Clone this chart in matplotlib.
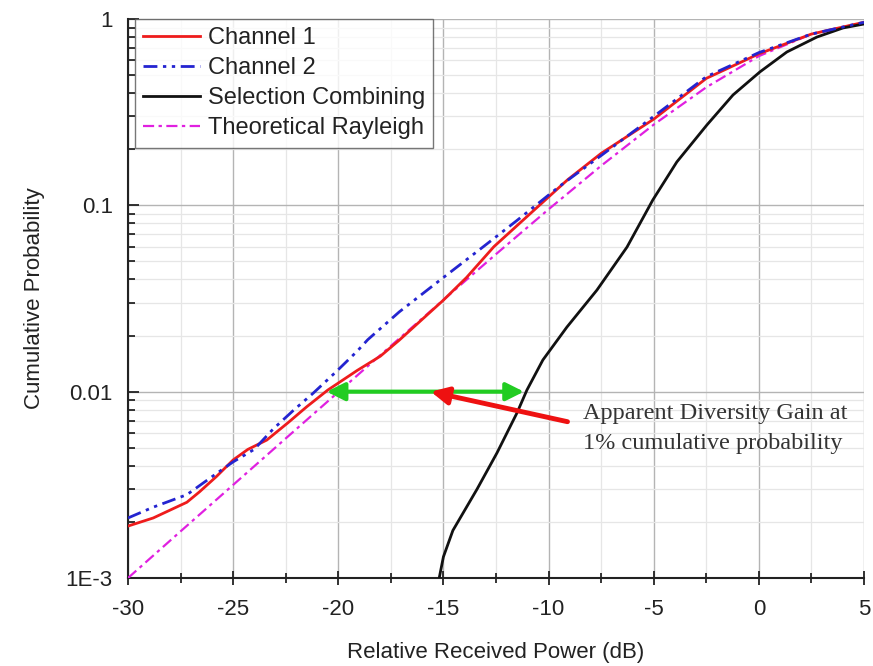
import matplotlib
matplotlib.use("Agg")
import matplotlib.pyplot as plt
from matplotlib.ticker import FixedLocator, FixedFormatter, NullFormatter

plt.rcParams['font.family'] = ['Liberation Sans', 'DejaVu Sans']

# Channel 1 measured CDF
ch1_db = [-30, -28.8, -27.2, -26.6, -25.8, -25, -24.3, -23.4, -22.4, -21.5, -20.5,
          -19.1, -18.0, -17.1, -15, -13.9, -12.6, -10.7, -9.1, -7.5, -5, -2.5, 0, 2.5, 5]
ch1_p = [0.0019, 0.0021, 0.00255, 0.0029, 0.0035, 0.0043, 0.0049, 0.0055, 0.0068,
         0.0083, 0.0102, 0.0130, 0.0155, 0.0189, 0.031, 0.041, 0.060, 0.094, 0.137,
         0.19, 0.29, 0.48, 0.65, 0.83, 0.96]

# Channel 2 measured CDF
ch2_db = [-30, -28.8, -27.2, -26, -25, -24, -23.1, -22.1, -21.2, -20.1, -19.1, -18.6,
          -17.1, -15, -13.1, -11.5, -9.5, -7.5, -5, -2.5, 0, 2.5, 5]
ch2_p = [0.0021, 0.0024, 0.0028, 0.0035, 0.0042, 0.0049, 0.0063, 0.0080, 0.0098,
         0.0128, 0.0165, 0.0190, 0.0268, 0.041, 0.060, 0.083, 0.126, 0.185, 0.30,
         0.49, 0.66, 0.83, 0.96]

# Selection combining CDF
sc_db = [-15.2, -15.0, -14.55, -13.4, -12.45, -11.5, -11.03, -10.27, -9.13, -7.7,
         -6.27, -5.04, -3.9, -2.47, -1.23, 0.05, 1.33, 2.76, 4.0, 5.0]
sc_p = [0.001, 0.0013, 0.0018, 0.0030, 0.0047, 0.0077, 0.0102, 0.0148, 0.0222,
        0.0351, 0.0597, 0.107, 0.171, 0.27, 0.391, 0.52, 0.665, 0.80, 0.895, 0.94]

# Theoretical Rayleigh CDF
ray_db = [-30, -27.5, -25, -22.5, -20, -17.5, -15, -12.5, -10, -7.5, -5, -2.5, 0, 2.5, 5]
ray_p = [0.0010, 0.00178, 0.00316, 0.00561, 0.00995, 0.0176, 0.0311, 0.0547,
         0.0952, 0.163, 0.271, 0.430, 0.632, 0.830, 0.958]

x_ticks = [-30, -25, -20, -15, -10, -5, 0, 5]
y_ticks = [0.001, 0.01, 0.1, 1]
y_tick_labels = ['1E-3', '0.01', '0.1', '1']

# Diversity gain marker at 1 % probability
gain_level = 0.01
gain_from_db = -20.55
gain_to_db = -11.17

fig = plt.figure(figsize=(8.73, 6.66), dpi=100)
ax = fig.add_axes([0.1466, 0.1321, 0.8431, 0.8394])

ax.set_yscale('log')
ax.set_xlim(-30, 5)
ax.set_ylim(0.001, 1)

ax.plot(ch1_db, ch1_p, color='#ee1c1c', lw=2.0, label='Channel 1', zorder=4)
ax.plot(ch2_db, ch2_p, color='#2424d0', lw=2.0, dashes=[5, 2, 1.2, 2, 1.2, 2],
        label='Channel 2', zorder=5)
ax.plot(sc_db, sc_p, color='#111111', lw=2.0, label='Selection Combining', zorder=4)
ax.plot(ray_db, ray_p, color='#e020e0', lw=1.6, dashes=[5, 2, 1.5, 2],
        label='Theoretical Rayleigh', zorder=3)

# ticks and grid
ax.xaxis.set_major_locator(FixedLocator(x_ticks))
ax.xaxis.set_minor_locator(FixedLocator([v + 2.5 for v in x_ticks[:-1]]))
ax.yaxis.set_major_locator(FixedLocator(y_ticks))
minor_y = [m * 10.0 ** e for e in (-3, -2, -1) for m in range(2, 10)]
ax.yaxis.set_minor_locator(FixedLocator(minor_y))
ax.yaxis.set_major_formatter(FixedFormatter(y_tick_labels))
ax.yaxis.set_minor_formatter(NullFormatter())
ax.set_xticklabels([str(v) for v in x_ticks])

ax.grid(True, which='major', color='#b4b4b4', lw=1.0)
ax.grid(True, which='minor', color='#e6e6e6', lw=0.9)
ax.set_axisbelow(True)

for s in ('top', 'right'):
    ax.spines[s].set_visible(False)
for s in ('left', 'bottom'):
    ax.spines[s].set_linewidth(1.5)
    ax.spines[s].set_color('#222222')

ax.tick_params(axis='x', which='major', direction='inout', length=10, width=1.3,
               labelsize=16, pad=10, colors='#222222')
ax.tick_params(axis='x', which='minor', direction='inout', length=7, width=1.1)
ax.tick_params(axis='y', which='major', direction='in', length=8, width=1.3,
               labelsize=16, pad=11, colors='#222222')
ax.tick_params(axis='y', which='minor', direction='in', length=5, width=1.1)

ax.set_xlabel('Relative Received Power (dB)', fontsize=16, color='#222222', labelpad=16)
ax.set_ylabel('Cumulative Probability', fontsize=16, color='#222222', labelpad=15)

leg = ax.legend(loc='upper left', bbox_to_anchor=(0.0095, 1.0), fontsize=17,
                frameon=True, fancybox=False, handlelength=2.4, handletextpad=0.33,
                borderpad=0.35, labelspacing=0.34, borderaxespad=0.0)
leg.get_frame().set_edgecolor('#555555')
leg.get_frame().set_linewidth(1.0)
for t in leg.get_texts():
    t.set_color('#222222')

# diversity gain double arrow
ax.annotate('', xy=(gain_from_db, gain_level), xytext=(gain_to_db, gain_level),
            arrowprops=dict(arrowstyle='<|-|>', color='#22cc22', lw=3,
                            mutation_scale=27, shrinkA=0, shrinkB=0), zorder=6)
ax.annotate('', xy=(-15.6, gain_level), xytext=(-9.1, 0.0069),
            arrowprops=dict(arrowstyle='-|>', color='#ee1111', lw=3.5,
                            mutation_scale=26, shrinkA=0, shrinkB=0), zorder=7)

fig.text(583 / 873, 1 - 403 / 666, 'Apparent Diversity Gain at\n1% cumulative probability',
         family=['Liberation Serif', 'DejaVu Serif'], fontsize=17.5, color='#333333',
         ha='left', va='top', linespacing=1.55)

fig.savefig('out.png', dpi=100)
